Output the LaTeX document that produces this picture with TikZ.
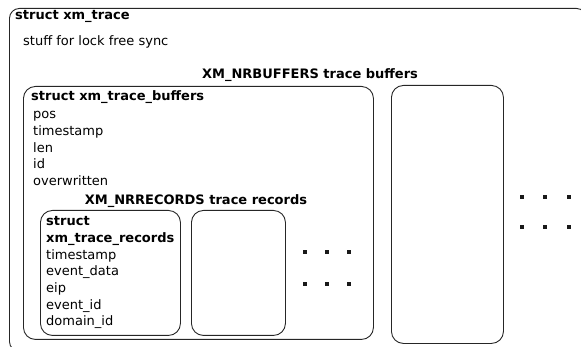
\documentclass[tikz,border=0pt]{standalone}
\usepackage{fontspec}
\setmainfont{DejaVu Sans}
\usetikzlibrary{positioning}
\tikzset{
  % rounded frames of the nested structs
  frame/.style={draw=black!85,line width=.9pt,rounded corners=#1,
    inner sep=0pt,anchor=north west},
  frame/.default=12pt,
  % struct names and member lists
  title/.style={font=\bfseries,inner sep=0pt,anchor=base west},
  caption/.style={font=\bfseries,inner sep=0pt,anchor=base},
  member/.style={inner sep=0pt,anchor=base west},
  % the "and so on" marks
  more/.style={fill=black!90,minimum size=3.5pt,inner sep=0pt},
}

\begin{document}
\fontsize{13}{15}\selectfont
\begin{tikzpicture}[x=1pt,y=-1pt]
  \useasboundingbox (0,0) rectangle (581,347);
  \clip (0,0) rectangle (581,347);

  % struct xm_trace, cut off at the right and bottom
  \node[frame=10pt,minimum width=577pt,minimum height=343pt] (trace) at (9,8) {};
  \node[title] (tracename) at (15,20) {struct xm\_trace};
  \node[member] (sync) at (23,46) {stuff for lock free sync};

  % the buffers
  \node[caption] (bufcap) at (310,79) {XM\_NRBUFFERS trace buffers};
  \node[frame,minimum width=350pt,minimum height=253pt] (buf1) at (23,86) {};
  \node[frame,minimum width=112pt,minimum height=258pt] (buf2) at (391,85) {};
  \node[title] (bufname) at (31,101) {struct xm\_trace\_buffers};
  \foreach \m [count=\i] in {pos,timestamp,len,id,overwritten}
    \node[member] (bufm\i) at (33,102+16.7*\i) {\m};

  % the records inside the first buffer
  \node[caption] (reccap) at (196,205) {XM\_NRRECORDS trace records};
  \node[frame,minimum width=140pt,minimum height=125pt] (rec1) at (40,210) {};
  \node[frame,minimum width=94pt,minimum height=125pt] (rec2) at (191,210) {};
  \node[title] (recname1) at (46,226) {struct};
  \node[title] (recname2) at (46,243) {xm\_trace\_records};
  \foreach \m [count=\i] in {timestamp,event\_data,eip,event\_id,domain\_id}
    \node[member] (recm\i) at (46,243+16.5*\i) {\m};

  % more records, more buffers
  \foreach \x in {305,327,349}
    \foreach \y in {252,284}
      \node[more] (recmore-\x-\y) at (\x,\y) {};
  \foreach \x in {522,545,569}
    \foreach \y in {197,227}
      \node[more] (bufmore-\x-\y) at (\x,\y) {};
\end{tikzpicture}
\end{document}
